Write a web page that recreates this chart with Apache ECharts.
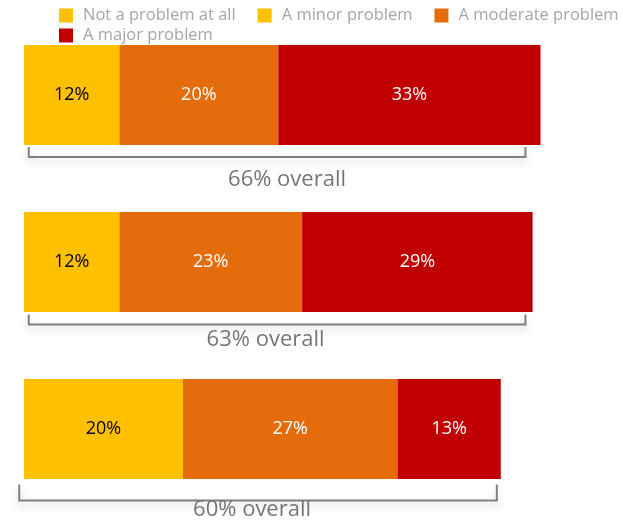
<!DOCTYPE html>
<html>
<head>
<meta charset="utf-8">
<script src="https://cdn.jsdelivr.net/npm/echarts@6/dist/echarts.min.js"></script>
<style>
  html, body { margin: 0; padding: 0; background: #ffffff; }
  #chart { width: 623px; height: 525px; }
</style>
</head>
<body>
<div id="chart"></div>
<script>
// Survey rows (top to bottom) and the share answering each level, in percent
const groups = ['Group 1', 'Group 2', 'Group 3'];
const seriesNames = ['Not a problem at all', 'A minor problem', 'A moderate problem', 'A major problem'];
const notAProblem = [];
const minorProblem = [12, 12, 20];
const moderateProblem = [20, 23, 27];
const majorProblem = [33, 29, 13];
const overall = [66, 63, 60];

// Bracket geometry under each bar: span in axis units, pixel drops from bar centre
const bracketLayout = [
  { from: 0.6, to: 63.1, textAt: 33.1, tickTop: 52, line: 62, text: 85 },
  { from: 0.6, to: 63.1, textAt: 30.4, tickTop: 52.5, line: 62.5, text: 78 },
  { from: -0.6, to: 59.5, textAt: 28.7, tickTop: 55.5, line: 71.5, text: 81 }
];

const colors = ['#FFC000', '#FFC000', '#E46C0A', '#C00000'];
const FONT = '"Open Sans", "Noto Sans", sans-serif';

function barSeries(name, data, color, labelColor) {
  return {
    name: name,
    type: 'bar',
    stack: 'total',
    barWidth: 100,
    itemStyle: { color: color },
    label: {
      show: true,
      position: 'inside',
      formatter: '{c}%',
      color: labelColor,
      fontFamily: FONT,
      fontSize: 18
    },
    emphasis: { disabled: true },
    data: data
  };
}

const bracketData = groups.map((g, i) => [bracketLayout[i].from, bracketLayout[i].to, i]);

const legendText = { color: '#a6a6a6', fontFamily: FONT, fontSize: 16.5, padding: [0, 0, 0, 5] };

const chart = echarts.init(document.getElementById('chart'), null, { renderer: 'canvas' });

chart.setOption({
  animation: false,
  backgroundColor: '#ffffff',
  color: colors,
  legend: [
    {
      data: seriesNames.slice(0, 3),
      left: 59,
      top: 7,
      width: 564,
      padding: 0,
      itemWidth: 14,
      itemHeight: 14,
      itemGap: 22,
      icon: 'rect',
      selectedMode: false,
      textStyle: legendText
    },
    {
      data: seriesNames.slice(3),
      left: 59,
      top: 27,
      padding: 0,
      itemWidth: 14,
      itemHeight: 14,
      icon: 'rect',
      selectedMode: false,
      textStyle: legendText
    }
  ],
  grid: { left: 24, right: 3, top: 11.5, bottom: 12.5, containLabel: false },
  xAxis: {
    type: 'value',
    min: 0,
    max: 75,
    show: false
  },
  yAxis: {
    type: 'category',
    data: groups,
    inverse: true,
    show: false
  },
  series: [
    barSeries(seriesNames[0], notAProblem, colors[0], '#000000'),
    barSeries(seriesNames[1], minorProblem, colors[1], '#000000'),
    barSeries(seriesNames[2], moderateProblem, colors[2], '#ffffff'),
    barSeries(seriesNames[3], majorProblem, colors[3], '#ffffff'),
    {
      name: 'overall',
      type: 'custom',
      clip: false,
      silent: true,
      encode: { x: [0, 1], y: 2 },
      data: bracketData,
      renderItem: function (params, api) {
        const idx = api.value(2);
        const lay = bracketLayout[idx];
        const left = api.coord([api.value(0), idx]);
        const right = api.coord([api.value(1), idx]);
        const mid = api.coord([lay.textAt, idx]);
        const cy = left[1];
        return {
          type: 'group',
          children: [
            {
              type: 'polyline',
              shape: {
                points: [
                  [left[0], cy + lay.tickTop],
                  [left[0], cy + lay.line],
                  [right[0], cy + lay.line],
                  [right[0], cy + lay.tickTop]
                ]
              },
              style: {
                stroke: '#808080',
                lineWidth: 2,
                fill: null,
                shadowBlur: 8,
                shadowOffsetY: 4,
                shadowColor: 'rgba(0,0,0,0.22)'
              }
            },
            {
              type: 'text',
              x: mid[0],
              y: cy + lay.text,
              style: {
                text: overall[idx] + '% overall',
                fill: '#767676',
                font: '22px ' + FONT,
                align: 'center',
                verticalAlign: 'middle'
              }
            }
          ]
        };
      }
    }
  ]
});
</script>
</body>
</html>
